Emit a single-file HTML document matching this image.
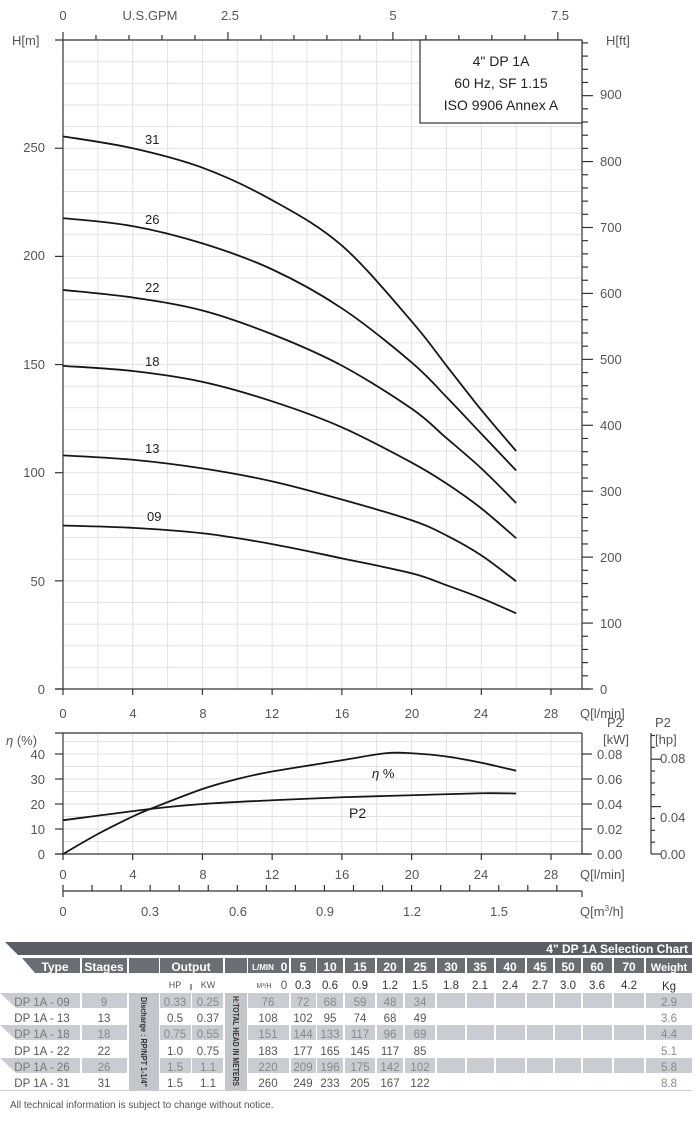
<!DOCTYPE html>
<html><head><meta charset="utf-8">
<style>
html,body{margin:0;padding:0;background:#fff;}
svg{display:block;font-family:"Liberation Sans",sans-serif;}
.t{fill:#555;font-size:13px;}
.h{fill:#fff;font-size:12px;font-weight:bold;}
.d{fill:#555;font-size:11.5px;}
.g{fill:#888;font-size:11.5px;}
</style></head><body>
<svg id="s" width="700" height="1125" viewBox="0 0 700 1125" xmlns="http://www.w3.org/2000/svg">
<g id="grid"></g>
<g id="axes" stroke="#333" stroke-width="1.2" fill="none"></g>
<g id="curves" stroke="#161616" stroke-width="1.8" fill="none"></g>
<rect x="420" y="40" width="162" height="83" fill="#fff" stroke="#333" stroke-width="1.2"/>
<g font-size="14" fill="#222" text-anchor="middle">
<text x="501" y="66">4" DP 1A</text>
<text x="501" y="88">60 Hz, SF 1.15</text>
<text x="501" y="110">ISO 9906 Annex A</text>
</g>
<g class="t" text-anchor="middle">
<text x="63" y="20">0</text><text x="150" y="20">U.S.GPM</text><text x="230" y="20">2.5</text><text x="393" y="20">5</text><text x="560" y="20">7.5</text>
</g>
<text class="t" x="12" y="45">H[m]</text>
<text class="t" x="606" y="45">H[ft]</text>
<g class="t" text-anchor="end">
<text x="45" y="694">0</text><text x="45" y="586">50</text><text x="45" y="477">100</text><text x="45" y="369">150</text><text x="45" y="260">200</text><text x="45" y="152">250</text>
</g>
<g class="t">
<text x="600" y="694">0</text><text x="600" y="628">100</text><text x="600" y="562">200</text><text x="600" y="496">300</text><text x="600" y="430">400</text><text x="600" y="364">500</text><text x="600" y="298">600</text><text x="600" y="232">700</text><text x="600" y="166">800</text><text x="600" y="99">900</text>
</g>
<g class="t" text-anchor="middle">
<text x="63" y="718">0</text><text x="133" y="718">4</text><text x="203" y="718">8</text><text x="272" y="718">12</text><text x="342" y="718">16</text><text x="412" y="718">20</text><text x="481" y="718">24</text><text x="551" y="718">28</text>
<text x="63" y="879">0</text><text x="133" y="879">4</text><text x="203" y="879">8</text><text x="272" y="879">12</text><text x="342" y="879">16</text><text x="412" y="879">20</text><text x="481" y="879">24</text><text x="551" y="879">28</text>
<text x="63" y="916">0</text><text x="150" y="916">0.3</text><text x="238" y="916">0.6</text><text x="325" y="916">0.9</text><text x="412" y="916">1.2</text><text x="499" y="916">1.5</text>
</g>
<text class="t" x="580" y="718">Q[l/min]</text>
<text class="t" x="580" y="879">Q[l/min]</text>
<text class="t" x="580" y="916">Q[m<tspan font-size="8" dy="-5">3</tspan><tspan dy="5">/h]</tspan></text>
<g font-size="13" fill="#222">
<text x="145" y="144">31</text><text x="145" y="224">26</text><text x="145" y="292">22</text><text x="145" y="366">18</text><text x="145" y="453">13</text><text x="147" y="521">09</text>
</g>
<text class="t" x="6" y="745"><tspan font-style="italic">η</tspan> (%)</text>
<g class="t" text-anchor="end">
<text x="45" y="859">0</text><text x="45" y="834">10</text><text x="45" y="809">20</text><text x="45" y="784">30</text><text x="45" y="759">40</text>
</g>
<g class="t">
<text x="607" y="727">P2</text><text x="603" y="744">[kW]</text>
<text x="655" y="727">P2</text><text x="655" y="744">[hp]</text>
<text x="597" y="759">0.08</text><text x="597" y="784">0.06</text><text x="597" y="809">0.04</text><text x="597" y="834">0.02</text><text x="597" y="859">0.00</text>
<text x="660" y="763">0.08</text><text x="660" y="822">0.04</text><text x="660" y="859">0.00</text>
</g>
<text x="372" y="778" font-size="13" fill="#222"><tspan font-style="italic">η</tspan> %</text>
<text x="349" y="818" font-size="14" fill="#222">P2</text>

<polygon points="5,942 692,942 692,955 18,955" fill="#5b5f64"/>
<text x="688" y="953" text-anchor="end" class="h" font-size="12">4" DP 1A Selection Chart</text>
<g id="tbl"></g>
<g class="h" text-anchor="middle">
<text x="55" y="971">Type</text><text x="104" y="971">Stages</text><text x="191" y="971">Output</text>
<text x="263" y="970" font-size="8">L/MIN</text><text x="284" y="971">0</text>
<text x="303" y="971">5</text><text x="330" y="971">10</text><text x="360" y="971">15</text><text x="390" y="971">20</text><text x="420" y="971">25</text><text x="451" y="971">30</text><text x="480" y="971">35</text><text x="510" y="971">40</text><text x="540" y="971">45</text><text x="568" y="971">50</text><text x="597" y="971">60</text><text x="629" y="971">70</text><text x="669" y="971" font-size="11">Weight</text>
</g>
<g fill="#333" font-size="11.5" text-anchor="middle">
<text x="175" y="988" font-size="9" fill="#555">HP</text><text x="208" y="988" font-size="9" fill="#555">KW</text>
<text x="264" y="988" font-size="7" fill="#555">M³/H</text><text x="284" y="989" fill="#555">0</text>
<text x="303" y="989">0.3</text><text x="330" y="989">0.6</text><text x="360" y="989">0.9</text><text x="390" y="989">1.2</text><text x="420" y="989">1.5</text><text x="451" y="989">1.8</text><text x="480" y="989">2.1</text><text x="510" y="989">2.4</text><text x="540" y="989">2.7</text><text x="568" y="989">3.0</text><text x="597" y="989">3.6</text><text x="629" y="989">4.2</text><text x="669" y="990">Kg</text>
</g>
<line x1="191" y1="984" x2="191" y2="990" stroke="#333"/>
<text transform="translate(141,997) rotate(90)" font-size="8.5" fill="#333" font-weight="bold" textLength="90" lengthAdjust="spacingAndGlyphs">Discharge : RP/NPT 1-1/4"</text>
<text transform="translate(233,996) rotate(90)" font-size="8" fill="#333" font-weight="bold" textLength="90" lengthAdjust="spacingAndGlyphs">H:TOTAL HEAD IN METERS</text>
<g class="d" text-anchor="middle">
<g class="g"><text x="42" y="1006" fill="#777">DP 1A - 09</text><text x="104" y="1006">9</text><text x="175" y="1006">0.33</text><text x="208" y="1006">0.25</text><text x="268" y="1006">76</text><text x="303" y="1006">72</text><text x="330" y="1006">68</text><text x="360" y="1006">59</text><text x="390" y="1006">48</text><text x="420" y="1006">34</text><text x="669" y="1006">2.9</text></g>
<text x="42" y="1022">DP 1A - 13</text><text x="104" y="1022">13</text><text x="175" y="1022">0.5</text><text x="208" y="1022">0.37</text><text x="268" y="1022">108</text><text x="303" y="1022">102</text><text x="330" y="1022">95</text><text x="360" y="1022">74</text><text x="390" y="1022">68</text><text x="420" y="1022">49</text><text x="669" y="1022" fill="#888">3.6</text>
<g class="g"><text x="42" y="1038" fill="#777">DP 1A - 18</text><text x="104" y="1038">18</text><text x="175" y="1038">0.75</text><text x="208" y="1038">0.55</text><text x="268" y="1038">151</text><text x="303" y="1038">144</text><text x="330" y="1038">133</text><text x="360" y="1038">117</text><text x="390" y="1038">96</text><text x="420" y="1038">69</text><text x="669" y="1038">4.4</text></g>
<text x="42" y="1055">DP 1A - 22</text><text x="104" y="1055">22</text><text x="175" y="1055">1.0</text><text x="208" y="1055">0.75</text><text x="268" y="1055">183</text><text x="303" y="1055">177</text><text x="330" y="1055">165</text><text x="360" y="1055">145</text><text x="390" y="1055">117</text><text x="420" y="1055">85</text><text x="669" y="1055" fill="#888">5.1</text>
<g class="g"><text x="42" y="1071" fill="#777">DP 1A - 26</text><text x="104" y="1071">26</text><text x="175" y="1071">1.5</text><text x="208" y="1071">1.1</text><text x="268" y="1071">220</text><text x="303" y="1071">209</text><text x="330" y="1071">196</text><text x="360" y="1071">175</text><text x="390" y="1071">142</text><text x="420" y="1071">102</text><text x="669" y="1071">5.8</text></g>
<text x="42" y="1087">DP 1A - 31</text><text x="104" y="1087">31</text><text x="175" y="1087">1.5</text><text x="208" y="1087">1.1</text><text x="268" y="1087">260</text><text x="303" y="1087">249</text><text x="330" y="1087">233</text><text x="360" y="1087">205</text><text x="390" y="1087">167</text><text x="420" y="1087">122</text><text x="669" y="1087" fill="#888">8.8</text>
</g>
<line x1="0" y1="1090.5" x2="692" y2="1090.5" stroke="#ccc"/>
<text x="10" y="1108" font-size="10" fill="#555">All technical information is subject to change without notice.</text>
</svg>
<script>
var NS="http://www.w3.org/2000/svg";
function el(p,t,a){var e=document.createElementNS(NS,t);for(var k in a)e.setAttribute(k,a[k]);p.appendChild(e);return e;}
function X(q){return 63+q*17.43;}
function Y(h){return 689-h*2.163;}
function YE(e){return 854-e*2.5;}
var G=document.getElementById('grid'),A=document.getElementById('axes'),C=document.getElementById('curves'),T=document.getElementById('tbl');
function ln(p,x1,y1,x2,y2,c,w){el(p,'line',{x1:x1,y1:y1,x2:x2,y2:y2,stroke:c||'#333','stroke-width':w||1.2});}
for(var q=2;q<30;q+=2){ln(G,X(q),40,X(q),689,'#e2e2e2',1);ln(G,X(q),733,X(q),854,'#e2e2e2',1);}
for(var h=10;h<300;h+=10)ln(G,63,Y(h),582,Y(h),'#e2e2e2',1);
for(var e=5;e<48;e+=5)ln(G,63,YE(e),582,YE(e),'#e2e2e2',1);
ln(A,55,40,582,40);ln(A,63,40,63,689);ln(A,582,40,582,689);ln(A,55,689,590,689);
for(var g=0;g<=8;g+=0.5){var x=63+g*3.7854*17.43;if(x<=583)ln(A,x,40,x,g%2.5==0?32:35);}
for(var h=0;h<=250;h+=50)ln(A,55,Y(h),63,Y(h));
for(var f=0;f<=980;f+=20){var y=689-f*0.3048*2.163;if(y>=40)ln(A,582,y,f%100==0?593:588,y);}
for(var q=0;q<=28;q+=4)ln(A,X(q),689,X(q),695);
ln(A,55,733,582,733);ln(A,63,733,63,854);ln(A,582,733,582,854);ln(A,55,854,590,854);
for(var e=0;e<=40;e+=10)ln(A,55,YE(e),63,YE(e));
for(var k=0;k<=8;k+=2)ln(A,582,YE(k*5),592,YE(k*5));
ln(A,651,733,651,854);
for(var i=0;i<=10;i++){var y=854-i*11.85;if(y>=734)ln(A,651,y,i%4==0?661:655,y);}
for(var q=0;q<=28;q+=4)ln(A,X(q),854,X(q),860);
ln(A,63,891,582,891);
for(var m=0;m<=1.75;m+=0.1){var x=X(m*1000/60);if(x<=583)ln(A,x,891,x,885);}
ln(A,X(0),891,X(0),897);ln(A,582,891,582,897);
function cr(pts,fx,fy){var P=pts.map(function(p){return[fx(p[0]),fy(p[1])];});var d='M'+P[0][0]+','+P[0][1];
for(var i=0;i<P.length-1;i++){var p0=P[i-1]||P[i],p1=P[i],p2=P[i+1],p3=P[i+2]||P[i+1];
d+=' C'+(p1[0]+(p2[0]-p0[0])/6)+','+(p1[1]+(p2[1]-p0[1])/6)+' '+(p2[0]-(p3[0]-p1[0])/6)+','+(p2[1]-(p3[1]-p1[1])/6)+' '+p2[0]+','+p2[1];}
el(C,'path',{d:d});}
var D=[
[[0,255.5],[4,250],[8,241],[12,226],[16,205],[20,170],[22,149.5],[24,129],[26,110]],
[[0,217.7],[4,214],[8,206],[12,194],[16,176],[20,151],[22,135],[24,118],[26,101]],
[[0,184.5],[4,181],[8,175],[12,164],[16,149.5],[20,129.6],[22,116],[24,102],[26,86]],
[[0,149.4],[4,147],[8,142],[12,133],[16,121],[20,104.7],[22,95],[24,83.5],[26,69.7]],
[[0,108],[4,106],[8,102],[12,96],[16,87.6],[20,78],[22,71],[24,61.8],[26,49.8]],
[[0,75.6],[4,74.5],[8,72],[12,67],[16,60.4],[20,53.5],[22,48],[24,42],[26,35]]];
D.forEach(function(d){cr(d,X,Y);});
cr([[0,0],[2,8],[4,15],[5,18],[8,26],[10,30],[12,33],[16,37.5],[18.5,40.3],[20,40.3],[22,39],[24,36.5],[26,33.3]],X,YE);
cr([[0,13.5],[5,18],[8,20],[12,21.5],[16,22.7],[20,23.5],[24,24.3],[26,24.2]],X,YE);
function rc(x,y,w,h,c){el(T,'rect',{x:x,y:y,width:w,height:h,fill:c});}
var cols=[[82,45],[129,30],[160,63],[225,22],[248,41],[291,25],[317,26],[345,30],[377,26],[405,30],[437,28],[467,27],[496,29],[527,26],[555,26],[583,29],[614,30],[646,46]];
el(T,'polygon',{points:'22,958 80,958 80,973 35,973',fill:'#6a6e73'});
cols.forEach(function(c){rc(c[0],958,c[1],15,'#6a6e73');});
var dc=[[82,45],[160,31],[192,31],[248,41],[291,25],[317,26],[345,30],[377,26],[405,30],[437,28],[467,27],[496,29],[527,26],[555,26],[583,29],[614,30],[646,46]];
[993,1025,1058].forEach(function(y){el(T,'polygon',{points:'0,'+y+' 80,'+y+' 80,'+(y+15)+' 16,'+(y+15),fill:'#c9ccd0'});
dc.forEach(function(c){rc(c[0],y,c[1],15,'#c9ccd0');});});
rc(129,993,30,97,'#c3c6ca');rc(225,993,22,97,'#c3c6ca');
var s=document.getElementById('s');s.insertBefore(T,s.firstChild);
</script>
</body></html>
